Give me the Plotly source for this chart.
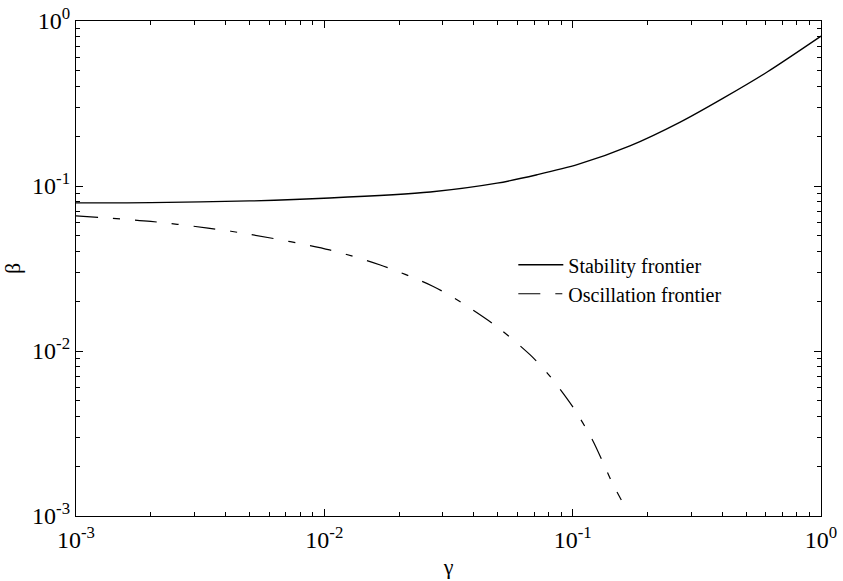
import plotly.graph_objects as go

# Stability frontier
stab_gamma = [0.001, 0.002, 0.005, 0.0105, 0.0267, 0.0496, 0.0719, 0.105, 0.17, 0.271, 0.404, 0.607, 1.0]
stab_beta = [0.079, 0.0792, 0.0812, 0.0846, 0.092, 0.104, 0.117, 0.135, 0.175, 0.244, 0.341, 0.491, 0.81]

# Oscillation frontier
osc_gamma = [0.001, 0.002, 0.0034, 0.005, 0.0105, 0.0168, 0.0272, 0.035, 0.0497, 0.0673, 0.08, 0.1, 0.12, 0.144, 0.157]
osc_beta = [0.066, 0.061, 0.0556, 0.051, 0.041, 0.0332, 0.0248, 0.020, 0.014, 0.0095, 0.0072, 0.0046, 0.0029, 0.0016, 0.00125]

decades = [0.001, 0.01, 0.1, 1]
tick_text = ["10<sup>-3</sup>", "10<sup>-2</sup>", "10<sup>-1</sup>", "10<sup>0</sup>"]
minor_vals = [m * d for d in decades[:-1] for m in range(2, 10)]

font_family = '"Liberation Serif", "Times New Roman", Times, serif'

fig = go.Figure()
fig.add_trace(go.Scatter(x=stab_gamma, y=stab_beta, mode="lines", name="Stability frontier",
                         line=dict(color="black", width=1.3, shape="spline", smoothing=0.8)))
fig.add_trace(go.Scatter(x=osc_gamma, y=osc_beta, mode="lines", name="Oscillation frontier",
                         line=dict(color="black", width=1.2, dash="22px,15px,7px,15px",
                                   shape="spline", smoothing=0.8)))

axis_common = dict(
    type="log", showgrid=False, zeroline=False, showline=True, linecolor="black", linewidth=1.3,
    mirror="allticks", ticks="inside", ticklen=7, tickcolor="black", tickwidth=1,
    tickfont=dict(family=font_family, size=24, color="black"),
    tickvals=decades, ticktext=tick_text, range=[-3, 0], automargin=False,
    ticklabeloverflow="allow",
    minor=dict(ticks="inside", ticklen=4, tickcolor="black", tickwidth=1, showgrid=False,
               tickvals=minor_vals),
)

fig.update_layout(
    width=843, height=581,
    margin=dict(l=76, r=22, t=21, b=65),
    paper_bgcolor="white", plot_bgcolor="white",
    font=dict(family=font_family, color="black", size=20),
    xaxis=dict(axis_common, ticklabelstandoff=2,
               title=dict(text="γ", font=dict(family=font_family, size=22), standoff=6)),
    yaxis=dict(axis_common, ticklabelstandoff=0,
               title=dict(text="β", font=dict(family=font_family, size=22), standoff=6)),
    legend=dict(x=0.587, y=0.547, xanchor="left", yanchor="top", bgcolor="rgba(0,0,0,0)",
                itemwidth=45,
                font=dict(family=font_family, size=20, color="black"), tracegroupgap=0),
    showlegend=True,
)

# remove the default 8px page margin so the figure fills the window exactly
fig.write_html("out.html", config={"displayModeBar": False},
               post_script="document.body.style.margin='0';")
